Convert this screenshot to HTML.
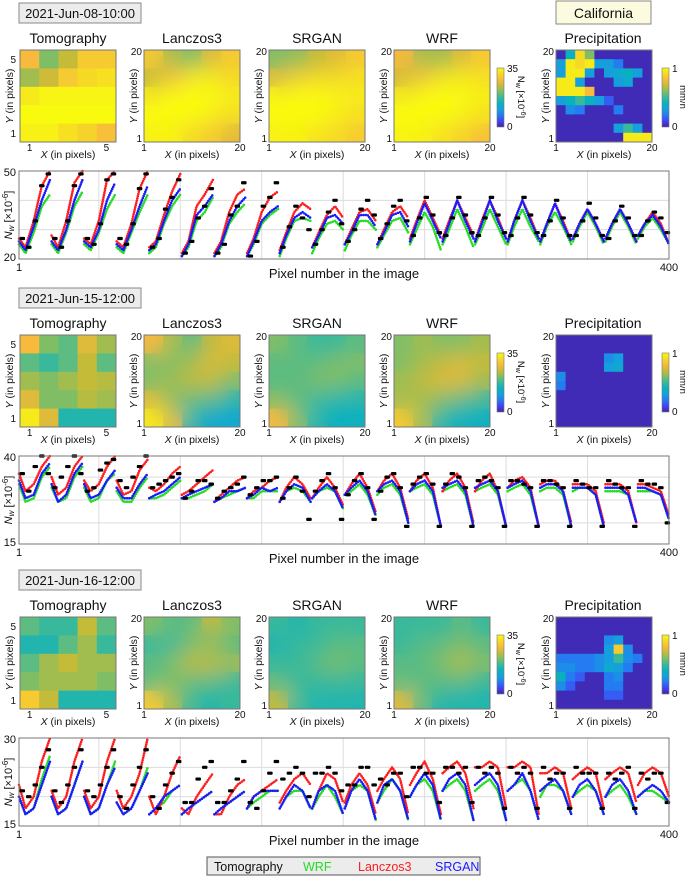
<!DOCTYPE html>
<html><head><meta charset="utf-8">
<style>
html,body{margin:0;padding:0;background:#fff;}
svg{display:block;font-family:"Liberation Sans",sans-serif;}
</style></head>
<body>
<svg id="fig" width="685" height="877" viewBox="0 0 685 877" xmlns="http://www.w3.org/2000/svg">
<defs>
<filter id="smooth" x="0" y="0" width="1" height="1"><feGaussianBlur stdDeviation="11" edgeMode="duplicate"/></filter>
<linearGradient id="parula" x1="0" y1="1" x2="0" y2="0">
<stop offset="0" stop-color="#3e26a8"/><stop offset="0.1" stop-color="#473ff3"/><stop offset="0.2" stop-color="#247bf2"/><stop offset="0.3" stop-color="#15a0dd"/><stop offset="0.4" stop-color="#09b1c0"/><stop offset="0.5" stop-color="#38b99b"/><stop offset="0.6" stop-color="#80be66"/><stop offset="0.7" stop-color="#c4bb38"/><stop offset="0.8" stop-color="#f7ba3d"/><stop offset="0.9" stop-color="#f5d925"/><stop offset="1" stop-color="#f9fb0e"/>
</linearGradient>
</defs>
</svg>
<script>
// ---------- DATA ----------
const sectionDates = ["2021-Jun-08-10:00", "2021-Jun-15-12:00", "2021-Jun-16-12:00"];
const mapTitles = ["Tomography", "Lanczos3", "SRGAN", "WRF"];
const grids1 = [
 [.8,.6,.7,.85,.85, .65,.72,.85,.9,.92, .95,.98,.98,.98,.98, 1,1,1,1,1, .97,.97,.92,.88,.82],
 [.85,.65,.6,.75,.85, .7,.8,.95,.95,.9, .95,1,1,1,.95, 1,1,1,.97,.92, .97,.97,.9,.85,.76],
 [.6,.62,.7,.75,.85, .75,.85,.9,.9,.92, .98,1,1,.98,.95, 1,1,1,.97,.92, .97,.97,.93,.9,.85],
 [.8,.65,.65,.75,.85, .72,.82,.93,.95,.92, .95,1,1,1,.96, 1,1,1,.98,.93, .98,.97,.92,.88,.82]];
const grids2 = [
 [.8,.6,.55,.75,.65, .55,.5,.55,.7,.55, .65,.6,.65,.7,.68, .75,.6,.6,.68,.65, .95,.75,.45,.45,.45],
 [.8,.65,.55,.7,.75, .6,.6,.65,.75,.7, .6,.65,.7,.7,.6, .75,.6,.55,.55,.45, .95,.75,.45,.35,.35],
 [.6,.55,.5,.5,.55, .55,.55,.55,.6,.6, .55,.55,.6,.6,.55, .6,.55,.5,.45,.45, .8,.6,.45,.4,.4],
 [.6,.65,.6,.6,.65, .6,.65,.7,.75,.7, .65,.7,.75,.75,.65, .65,.65,.6,.55,.5, .85,.65,.45,.4,.4]];
const grids3 = [
 [.55,.5,.5,.7,.55, .45,.45,.55,.65,.5, .55,.65,.7,.65,.65, .6,.65,.65,.65,.6, .85,.7,.45,.45,.45],
 [.6,.55,.55,.7,.6, .5,.5,.6,.6,.55, .55,.6,.7,.7,.65, .55,.6,.55,.55,.5, .85,.65,.5,.45,.5],
 [.5,.45,.5,.5,.5, .45,.5,.5,.55,.55, .5,.5,.55,.6,.55, .55,.5,.5,.5,.5, .7,.5,.45,.45,.45],
 [.5,.5,.5,.55,.5, .5,.55,.55,.6,.55, .55,.55,.6,.68,.6, .55,.55,.55,.55,.5, .75,.55,.45,.45,.45]];
const precip1 = [
 .02,.4,.9,.6,.02,.02,.02,.02,.02,.02,
 .3,.95,.9,.95,.3,.3,.2,.02,.02,.02,
 .3,.95,.95,.3,.02,.3,.35,.4,.3,.02,
 .95,.95,.3,.02,.02,.02,.3,.35,.02,.02,
 .95,.95,.95,.8,.02,.02,.02,.02,.02,.02,
 .3,.4,.5,.4,.3,.15,.02,.02,.02,.02,
 .02,.25,.2,.02,.02,.02,.2,.02,.02,.02,
 .02,.02,.02,.02,.02,.02,.02,.02,.02,.02,
 .02,.02,.02,.02,.02,.02,.3,.5,.3,.02,
 .02,.02,.02,.02,.02,.02,.02,.95,.95,.95];
const precip2 = [
 .02,.02,.02,.02,.02,.02,.02,.02,.02,.02,
 .02,.02,.02,.02,.02,.02,.02,.02,.02,.02,
 .02,.02,.02,.02,.02,.25,.3,.02,.02,.02,
 .02,.02,.02,.02,.02,.3,.35,.02,.02,.02,
 .25,.02,.02,.02,.02,.02,.02,.02,.02,.02,
 .2,.02,.02,.02,.02,.02,.02,.02,.02,.02,
 .02,.02,.02,.02,.02,.02,.02,.02,.02,.02,
 .02,.02,.02,.02,.02,.02,.02,.02,.02,.02,
 .02,.02,.02,.02,.02,.02,.02,.02,.02,.02,
 .02,.02,.02,.02,.02,.02,.02,.02,.02,.02];
const precip3 = [
 .02,.02,.02,.02,.02,.02,.02,.02,.02,.02,
 .02,.02,.02,.02,.02,.02,.02,.02,.02,.02,
 .02,.02,.02,.02,.02,.25,.3,.02,.02,.02,
 .02,.02,.02,.02,.02,.3,.85,.25,.02,.02,
 .2,.2,.2,.2,.25,.3,.5,.25,.2,.02,
 .25,.25,.2,.2,.25,.35,.3,.2,.02,.02,
 .4,.2,.15,.02,.02,.2,.25,.02,.02,.02,
 .25,.15,.02,.02,.02,.2,.2,.02,.02,.02,
 .02,.02,.02,.02,.02,.15,.15,.02,.02,.02,
 .02,.02,.02,.02,.02,.02,.02,.02,.02,.02];
const samplePixels = [1,5,10,15,20];
const yMin = [20,15,15], yMax = [50,40,30];
const gridVals1 = [40,30], gridVals2 = [34,27.5,21], gridVals3 = [25,20];
const lanczos1 = [27,24,33,45,52, 28,24,33,46,52, 27,25,33,47,52, 26,24,32,44,52, 24,26,35,43,49, 22,26,38,42,47, 22,26,36,42,44, 22,27,36,41,43, 23,29,36,39,37, 24,29,35,38,34, 25,30,36,37,33, 25,30,36,38,34, 27,33,40,34,28, 27,33,40,34,28, 26,33,40,34,27, 26,33,40,34,27, 26,32,39,33,26, 27,32,37,32,26, 27,32,37,32,26, 28,32,36,32,25];
const srgan1 = [26,23,31,40,47, 26,23,30,40,47, 26,24,30,40,46, 25,23,30,38,45, 23,25,33,40,44, 21,25,35,38,42, 21,25,33,38,41, 21,26,33,36,38, 22,28,34,36,34, 24,28,34,35,32, 25,29,35,35,31, 25,29,35,36,31, 26,32,39,33,27, 26,32,40,33,27, 26,32,40,33,27, 26,33,40,33,27, 26,32,39,32,26, 27,32,37,32,26, 27,32,37,32,26, 28,32,35,31,25];
const wrf1 = [25,22,29,38,42, 25,22,29,38,43, 25,23,29,37,42, 24,22,29,36,42, 22,24,32,38,42, 21,24,33,36,41, 21,24,32,36,39, 21,25,32,35,37, 21,27,33,34,33, 22,27,32,33,30, 23,28,33,33,30, 24,28,33,34,29, 25,30,36,31,23, 25,30,37,31,24, 25,30,37,31,25, 25,31,37,31,26, 25,31,36,31,25, 26,31,36,31,25, 26,31,36,31,25, 27,31,34,30,25];
const tomo1 = [27,24,33,45,49, 27,24,33,45,49, 27,25,32,47,49, 27,25,32,44,49, 24,27,37,41,47, 22,26,34,38,44, 22,25,35,38,46, 21,26,38,41,46, 24,31,38,34,30, 25,30,36,40,32, 26,30,37,40,35, 27,32,38,40,33, 28,34,41,35,29, 28,34,41,35,29, 28,34,41,35,29, 28,34,41,35,29, 28,33,40,34,28, 28,33,39,34,28, 27,33,38,34,28, 28,33,36,34,29];
const lanczos2 = [35,30,32,37,40, 34,29,31,37,40, 33,30,32,37,40, 33,29,30,36,39, 31,30,32,35,37, 29,30,32,34,36, 27,29,31,33,34, 28,30,31,33,34, 27,31,34,32,28, 28,31,34,31,26, 29,32,35,31,24, 30,33,35,31,22, 30,33,35,31,20, 30,33,35,31,21, 30,33,35,30,20, 31,33,34,31,20, 32,33,33,30,21, 32,32,32,30,21, 32,32,32,30,21, 32,32,31,30,23];
const srgan2 = [33,28,29,35,38, 32,27,29,35,38, 32,28,29,33,36, 31,28,28,32,35, 28,29,30,32,34, 28,29,30,31,32, 27,28,30,30,31, 28,29,31,30,31, 27,30,32,31,27, 28,30,32,30,25, 29,31,33,30,23, 30,32,33,30,21, 30,32,33,30,20, 31,32,33,30,20, 31,32,33,30,20, 31,32,33,30,20, 31,32,32,30,20, 31,31,31,29,20, 31,31,31,29,21, 31,31,30,29,22];
const wrf2 = [32,27,28,34,37, 31,27,28,34,37, 31,27,28,33,35, 30,27,27,31,34, 28,28,29,31,33, 28,28,29,30,32, 27,28,29,30,31, 28,28,30,30,30, 27,30,31,30,27, 28,30,31,30,25, 29,30,32,29,23, 29,31,32,29,21, 30,31,32,29,20, 30,31,32,29,20, 30,31,32,29,20, 30,31,32,29,20, 30,31,31,29,20, 30,31,31,29,20, 30,30,30,29,21, 30,30,30,29,22];
const tomo2 = [35,30,37,40,35, 31,34,37,40,35, 30,31,36,38,39, 33,31,34,37,40, 31,32,33,34,35, 28,30,33,33,32, 28,30,31,32,34, 29,31,33,33,34, 28,31,34,30,22, 30,33,35,31,22, 29,33,35,31,22, 30,34,35,31,20, 32,34,35,32,20, 32,35,34,31,20, 33,34,33,31,20, 33,33,32,31,20, 33,33,32,31,20, 33,32,31,31,20, 33,32,31,31,20, 33,32,32,31,21];
const lanczos3 = [22,18,20,26,31, 21,18,20,26,31, 21,18,20,26,31, 21,18,20,24,30, 20,17,20,24,27, 18,17,20,22,24, 17,17,20,22,23, 18,20,21,22,23, 19,21,23,24,22, 18,21,24,23,19, 19,22,24,22,17, 21,23,25,23,17, 22,24,26,23,17, 24,25,26,24,18, 25,25,26,25,18, 25,25,26,25,17, 24,24,25,24,18, 23,24,25,24,18, 23,24,25,24,19, 22,24,25,24,20];
const srgan3 = [20,17,18,22,26, 20,17,18,22,26, 20,17,18,22,25, 19,17,18,21,24, 17,18,20,21,22, 17,18,19,20,21, 17,18,19,20,21, 18,20,21,21,21, 18,20,22,21,18, 18,21,22,21,17, 18,21,23,21,16, 19,22,23,21,16, 20,22,24,22,16, 21,23,24,22,16, 22,23,24,22,16, 21,22,24,21,16, 21,22,23,21,17, 20,22,23,21,17, 20,22,23,21,17, 20,21,22,21,19];
const wrf3 = [20,17,18,23,27, 20,17,18,22,26, 20,17,18,22,26, 19,17,18,21,25, 17,18,19,21,22, 17,18,19,20,21, 17,18,19,20,21, 18,19,20,21,21, 18,20,21,21,18, 18,20,22,20,17, 18,21,22,21,16, 19,21,23,21,16, 20,22,23,21,16, 21,22,23,21,16, 21,22,23,21,16, 21,22,23,21,16, 20,22,22,21,17, 20,21,22,21,17, 20,21,22,20,17, 20,21,21,20,19];
const tomo3 = [21,20,22,25,28, 21,19,22,25,28, 21,20,22,25,28, 20,18,22,25,28, 20,18,22,24,26, 19,19,23,25,26, 19,19,21,23,26, 19,18,21,24,26, 23,24,25,24,20, 24,24,25,24,21, 22,22,25,25,22, 23,22,24,24,20, 25,25,24,24,19, 25,25,24,25,19, 25,24,25,24,18, 25,24,25,24,18, 25,23,24,24,18, 25,24,24,24,18, 24,23,24,25,18, 24,23,24,24,19];

// ---------- DRAW ----------
const NS = 'http://www.w3.org/2000/svg';
const svg = document.getElementById('fig');
function mk(tag, attrs, parent) {
  const e = document.createElementNS(NS, tag);
  for (const k in attrs) e.setAttribute(k, attrs[k]);
  (parent || svg).appendChild(e);
  return e;
}
function txt(x, y, s, size, anchor, parent) {
  const t = mk('text', {x: x, y: y, 'font-size': size, 'text-anchor': anchor || 'middle', fill: '#111'}, parent);
  t.textContent = s;
  return t;
}
const stops = [[62,38,168],[71,63,243],[36,123,242],[21,160,221],[9,177,192],[56,185,155],[128,190,102],[196,187,56],[247,186,61],[245,217,37],[249,251,14]];
function parula(v) {
  v = Math.max(0, Math.min(1, v)) * 10;
  const i = Math.min(9, Math.floor(v)), f = v - i, a = stops[i], b = stops[i + 1];
  return 'rgb(' + [0,1,2].map(k => Math.round(a[k] + (b[k] - a[k]) * f)).join(',') + ')';
}

const offsets = [0, 285, 567];
const allGrids = [grids1, grids2, grids3];
const allPrecip = [precip1, precip2, precip3];
const chartSeries = [
  [tomo1, wrf1, lanczos1, srgan1],
  [tomo2, wrf2, lanczos2, srgan2],
  [tomo3, wrf3, lanczos3, srgan3]];
const gridVals = [gridVals1, gridVals2, gridVals3];
const mapX = [20, 144, 269, 394];
const MW = 96, MH = 92;

function axisLabels(g, bx, by, n, isTomo) {
  const cell = MW / n;
  if (isTomo) {
    txt(bx - 4, by + 9 + 4, '5', 10, 'end', g);
    txt(bx - 4, by + MH - 9 + 4, '1', 10, 'end', g);
    txt(bx + cell / 2, by + MH + 9, '1', 10, 'middle', g);
    txt(bx + MW - cell / 2, by + MH + 9, '5', 10, 'middle', g);
  } else {
    txt(bx - 2, by + 5, '20', 10, 'end', g);
    txt(bx - 2, by + MH, '1', 10, 'end', g);
    txt(bx, by + MH + 9, '1', 10, 'middle', g);
    txt(bx + MW, by + MH + 9, '20', 10, 'middle', g);
  }
  const xl = mk('text', {x: bx + MW / 2, y: by + MH + 16, 'font-size': 10.5, 'text-anchor': 'middle', fill: '#111'}, g);
  xl.innerHTML = '<tspan font-style="italic">X</tspan> (in pixels)';
  
  
  const yl = mk('text', {x: 0, y: 0, 'font-size': 10.5, 'text-anchor': 'middle', fill: '#111', transform: 'translate(' + (bx - 7) + ',' + (by + MH / 2) + ') rotate(-90)'}, g);
  yl.innerHTML = '<tspan font-style="italic">Y</tspan> (in pixels)';
  
  
}

for (let s = 0; s < 3; s++) {
  const off = offsets[s];
  const sec = mk('g', {});
  
  

  const db = mk('rect', {x: 19, y: 3 + off, width: 122, height: 20, fill: '#ececec', stroke: '#888', 'stroke-width': 1}, sec);
  
  
  const dt = txt(80, 18 + off, sectionDates[s], 13, 'middle', sec);
  
  

  if (s === 0) {
    const cb = mk('rect', {x: 556, y: 1, width: 95, height: 23, fill: '#fdfbdf', stroke: '#888', 'stroke-width': 1}, sec);
    
    
    const ct = txt(603.5, 18, 'California', 14, 'middle', sec);
    
    
  }

  const by = 50 + off;
  for (let m = 0; m < 4; m++) {
    const g = mk('g', {}, sec);
    
    
    const tt = txt(mapX[m] + MW / 2, 43 + off, mapTitles[m], 14, 'middle', g);
    
    
    const vals = allGrids[s][m];
    const layers = m === 0 ? [null] : [null, 'url(#smooth)'];
    layers.forEach(function (flt) {
      const lg = mk('g', flt ? {filter: flt} : {}, g);
      for (let i = 0; i < 25; i++) {
        const r = Math.floor(i / 5), c = i % 5;
        const cell = mk('rect', {x: mapX[m] + c * MW / 5, y: by + r * MH / 5, width: MW / 5 + 0.5, height: MH / 5 + 0.5, fill: parula(vals[i])}, lg);
        
        
      }
    });
    mk('rect', {x: mapX[m], y: by, width: MW, height: MH, fill: 'none', stroke: '#777', 'stroke-width': 1}, g);
    axisLabels(g, mapX[m], by, m === 0 ? 5 : 20, m === 0);
  }
  const cbar = mk('rect', {x: 497, y: by + 18, width: 7, height: 59, fill: 'url(#parula)', stroke: '#777', 'stroke-width': 0.6}, sec);
  
  
  txt(507, by + 22, '35', 10, 'start', sec);
  txt(507, by + 80, '0', 10, 'start', sec);
  const cl = mk('text', {x: 0, y: 0, 'font-size': 9.5, 'text-anchor': 'middle', fill: '#111', transform: 'translate(518,' + (by + 47) + ') rotate(90)'}, sec);
  cl.innerHTML = 'N<tspan font-size="7" dy="2">w</tspan><tspan dy="-2"> [×10</tspan><tspan font-size="7" dy="-3">-6</tspan><tspan dy="3">]</tspan>';
  
  

  const pg = mk('g', {}, sec);
  
  
  const pt = txt(603, 43 + off, 'Precipitation', 14, 'middle', pg);
  
  
  const pv = allPrecip[s];
  for (let i = 0; i < 100; i++) {
    const r = Math.floor(i / 10), c = i % 10;
    const cell = mk('rect', {x: 556 + c * MW / 10, y: by + r * MH / 10, width: MW / 10 + 0.4, height: MH / 10 + 0.4, fill: parula(pv[i])}, pg);
    
    
  }
  mk('rect', {x: 556, y: by, width: MW, height: MH, fill: 'none', stroke: '#777', 'stroke-width': 1}, pg);
  axisLabels(pg, 556, by, 20, false);
  const pbar = mk('rect', {x: 662, y: by + 18, width: 7, height: 59, fill: 'url(#parula)', stroke: '#777', 'stroke-width': 0.6}, sec);
  
  
  txt(672, by + 22, '1', 10, 'start', sec);
  txt(672, by + 80, '0', 10, 'start', sec);
  const pl = mk('text', {x: 0, y: 0, 'font-size': 9.5, 'text-anchor': 'middle', fill: '#111', transform: 'translate(680,' + (by + 47) + ') rotate(90)'}, sec);
  pl.textContent = 'mm/h';
  
  

  const cg = mk('g', {}, sec);
  
  
  const PX = 19, PW = 650, PY = 171 + off, PH = 88;
  const lo = yMin[s], hi = yMax[s];
  const xs = p => PX + (p - 1) / 399 * PW;
  const ys = v => PY + (hi - Math.min(hi, Math.max(lo, v))) / (hi - lo) * PH;
  mk('rect', {x: PX, y: PY, width: PW, height: PH, fill: '#fff'}, cg);
  gridVals[s].forEach(function (v) {
    const gl = mk('line', {x1: PX, x2: PX + PW, y1: ys(v), y2: ys(v), stroke: '#dcdcdc', 'stroke-width': 1}, cg);
    
    
  });
  for (let k = 1; k <= 7; k++) {
    const vl = mk('line', {x1: xs(k * 50), x2: xs(k * 50), y1: PY, y2: PY + PH, stroke: '#dcdcdc', 'stroke-width': 1}, cg);
    
    
  }
  const colors = ['#000', '#22dd22', '#ff1e1e', '#1a1aff'];
  const names = ['tomography', 'wrf', 'lanczos3', 'srgan'];
  [1, 2, 3].forEach(function (si) {
    const data = chartSeries[s][si];
    const sg = mk('g', {}, cg);
    
    
    for (let r = 0; r < 20; r++) {
      const pts = samplePixels.map((p, j) => xs(r * 20 + p).toFixed(1) + ',' + ys(data[r * 5 + j]).toFixed(1)).join(' ');
      const pl2 = mk('polyline', {points: pts, fill: 'none', stroke: colors[si], 'stroke-width': 2.6, 'stroke-linecap': 'round', 'stroke-dasharray': '0 2.3'}, sg);
      
      
    }
  });
  const tg = mk('g', {}, cg);
  
  
  const tdat = chartSeries[s][0];
  for (let i = 0; i < 100; i++) {
    const x0 = xs(i * 4 + 1), x1 = xs(i * 4 + 5);
    const d = mk('rect', {x: x0 + 0.5, y: ys(tdat[i]) - 1.6, width: x1 - x0 - 1, height: 3.2, rx: 1, fill: '#000'}, tg);
    
    
  }
  mk('rect', {x: PX, y: PY, width: PW, height: PH, fill: 'none', stroke: '#777', 'stroke-width': 1}, cg);
  txt(PX - 3, PY + 5, String(hi), 11, 'end', cg);
  txt(PX - 3, PY + PH + 2, String(lo), 11, 'end', cg);
  txt(PX, PY + PH + 12, '1', 11, 'middle', cg);
  txt(PX + PW, PY + PH + 12, '400', 11, 'middle', cg);
  const xt = txt(PX + PW / 2, PY + PH + 19, 'Pixel number in the image', 13, 'middle', cg);
  
  
  const yt = mk('text', {x: 0, y: 0, 'font-size': 11, 'text-anchor': 'middle', fill: '#111', transform: 'translate(12,' + (PY + PH / 2) + ') rotate(-90)'}, cg);
  yt.innerHTML = '<tspan font-style="italic">N</tspan><tspan font-size="8" dy="2" font-style="italic">w</tspan><tspan dy="-2"> [×10</tspan><tspan font-size="8" dy="-4">-6</tspan><tspan dy="4">]</tspan>';
  
  
}

const lgG = mk('g', {});


mk('rect', {x: 207, y: 857, width: 273, height: 18, fill: '#ececec', stroke: '#555', 'stroke-width': 1}, lgG);
const legendItems = [['Tomography', 214, '#111'], ['WRF', 303, '#22dd22'], ['Lanczos3', 358, '#ff1e1e'], ['SRGAN', 435, '#1a1aff']];
legendItems.forEach(function (it) {
  const t = txt(it[1], 871, it[0], 12.5, 'start', lgG);
  t.setAttribute('fill', it[2]);
  
  
});
</script>
</body></html>
